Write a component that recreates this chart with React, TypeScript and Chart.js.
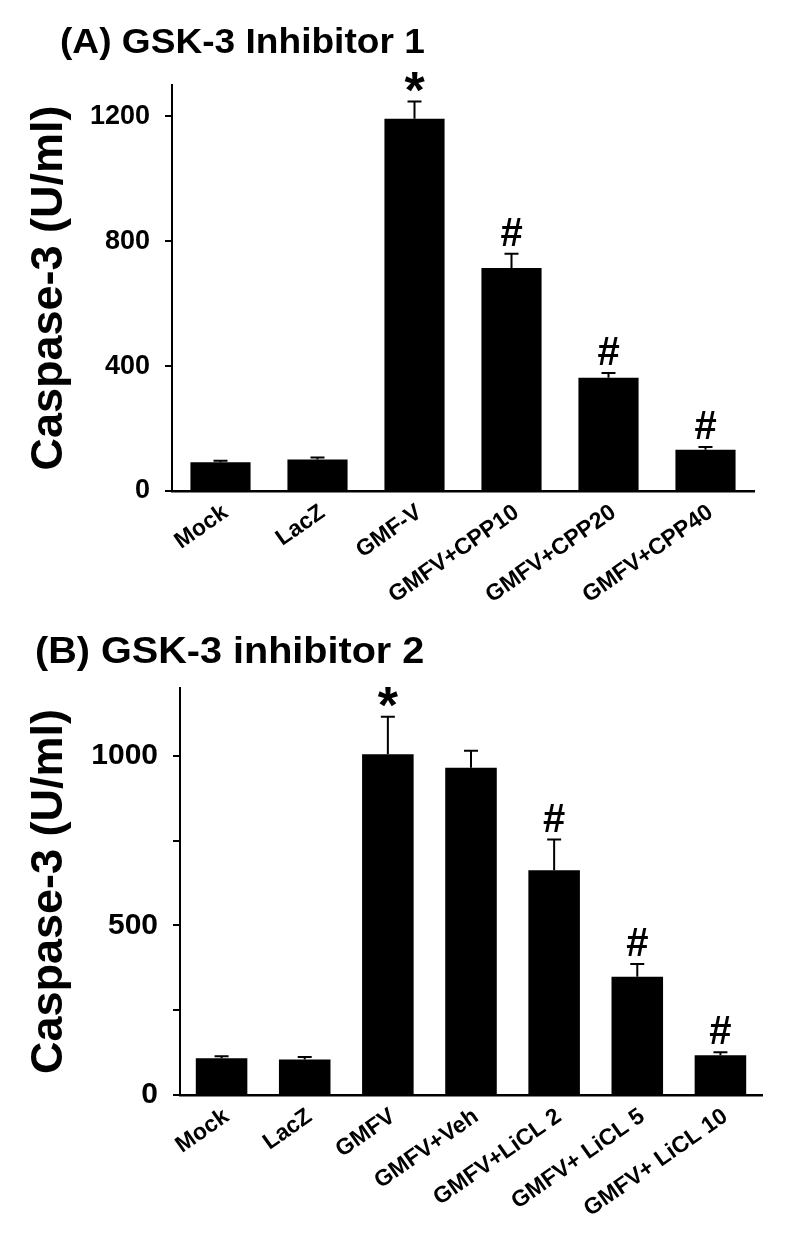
import React, { useEffect, useRef } from 'react';
import { Chart, registerables } from 'chart.js';

Chart.register(...registerables);

const FONT = '"Liberation Sans", Arial, Helvetica, sans-serif';

// ---------- Panel A data ----------
const categoriesA = ['Mock', 'LacZ', 'GMF-V', 'GMFV+CPP10', 'GMFV+CPP20', 'GMFV+CPP40'];
const valuesA = [92, 101, 1192, 714, 363, 132];
const errorsA = [5, 6, 55, 46, 15, 9];
const marksA = ['', '', '*', '#', '#', '#'];
const ticksA = [0, 400, 800, 1200];
const labeledA = [0, 400, 800, 1200];
const maxA = 1300;

// ---------- Panel B data ----------
const categoriesB = ['Mock', 'LacZ', 'GMFV', 'GMFV+Veh', 'GMFV+LiCL 2', 'GMFV+ LiCL 5', 'GMFV+ LiCL 10'];
const valuesB = [108, 105, 1005, 965, 663, 349, 117];
const errorsB = [6, 7, 110, 50, 90, 37, 9];
const marksB = ['', '', '*', '', '#', '#', '#'];
const ticksB = [0, 250, 500, 750, 1000];
const labeledB = [0, 500, 1000];
const maxB = 1200;

const overlayPlugin = {
  id: 'overlay',
  afterDatasetsDraw(chart: any, _args: any, o: any) {
    const ctx = chart.ctx;
    const xs = chart.scales.x;
    const ys = chart.scales.y;
    ctx.save();
    ctx.strokeStyle = '#000';
    ctx.fillStyle = '#000';
    ctx.lineWidth = 2;
    o.vals.forEach((v: number, i: number) => {
      const px = xs.getPixelForValue(i);
      const y0 = ys.getPixelForValue(v);
      const y1 = ys.getPixelForValue(v + o.errs[i]);
      ctx.beginPath();
      ctx.moveTo(px, y0);
      ctx.lineTo(px, y1);
      ctx.moveTo(px - o.cap, y1);
      ctx.lineTo(px + o.cap, y1);
      ctx.stroke();
      const m = o.marks[i];
      if (m) {
        const isStar = m === '*';
        ctx.font = `bold ${isStar ? o.starSize : o.hashSize}px ${FONT}`;
        ctx.textAlign = 'center';
        ctx.textBaseline = 'alphabetic';
        const mt = ctx.measureText(m);
        const cy = y1 - (isStar ? o.starGap : o.hashGap);
        const base = cy + (mt.actualBoundingBoxAscent - mt.actualBoundingBoxDescent) / 2;
        ctx.fillText(m, px, base);
      }
    });
    ctx.restore();
  },
  afterDraw(chart: any, _args: any, o: any) {
    const ctx = chart.ctx;
    const ca = chart.chartArea;
    ctx.save();
    ctx.fillStyle = '#000';
    ctx.font = `bold ${o.titleSize}px ${FONT}`;
    ctx.textAlign = 'left';
    ctx.textBaseline = 'alphabetic';
    ctx.translate(o.titleX, o.titleY);
    ctx.scale(o.titleStretch, 1);
    ctx.fillText(o.title, 0, 0);
    ctx.restore();

    ctx.save();
    ctx.fillStyle = '#000';
    ctx.translate(o.yTitleX, (ca.top + ca.bottom) / 2);
    ctx.rotate(-Math.PI / 2);
    ctx.font = `bold ${o.yTitleSize}px ${FONT}`;
    ctx.textAlign = 'center';
    ctx.textBaseline = 'middle';
    ctx.fillText(o.yTitle, 0, 0);
    ctx.restore();
  },
};

function buildConfig(p: any): any {
  return {
    type: 'bar',
    data: {
      labels: p.cats,
      datasets: [
        {
          data: p.vals,
          backgroundColor: '#000',
          borderWidth: 0,
          barPercentage: 0.62,
          categoryPercentage: 1.0,
        },
      ],
    },
    plugins: [overlayPlugin],
    options: {
      responsive: false,
      animation: false,
      devicePixelRatio: 1,
      layout: { padding: { top: p.padTop, right: p.padRight, left: 0, bottom: 0 } },
      plugins: {
        legend: { display: false },
        tooltip: { enabled: false },
        title: { display: false },
        overlay: {
          vals: p.vals,
          errs: p.errs,
          marks: p.marks,
          cap: 7,
          starSize: 52,
          hashSize: 40,
          starGap: 20,
          hashGap: 22,
          title: p.title,
          titleX: p.titleX,
          titleY: p.titleY,
          titleSize: p.titleSize,
          titleStretch: p.titleStretch,
          yTitle: 'Caspase-3 (U/ml)',
          yTitleX: 50,
          yTitleSize: 45,
        },
      },
      scales: {
        x: {
          type: 'category',
          offset: true,
          afterFit: (s: any) => {
            s.height = p.xHeight;
          },
          grid: { display: true, drawOnChartArea: false, drawTicks: false },
          border: { display: true, color: '#000', width: 2.5 },
          ticks: {
            autoSkip: false,
            minRotation: 35,
            maxRotation: 35,
            padding: 8,
            labelOffset: 5,
            color: '#000',
            font: { family: FONT, size: 23, weight: 'bold' },
          },
        },
        y: {
          type: 'linear',
          min: 0,
          max: p.max,
          afterFit: (s: any) => {
            s.width = p.yWidth;
          },
          afterBuildTicks: (s: any) => {
            s.ticks = p.ticks.map((v: number) => ({ value: v }));
          },
          grid: {
            display: true,
            drawOnChartArea: false,
            drawTicks: true,
            tickLength: 7,
            color: '#000',
            lineWidth: 2,
          },
          border: { display: true, color: '#000', width: 2 },
          ticks: {
            padding: 15,
            color: '#000',
            font: { family: FONT, size: p.tickSize, weight: 'bold' },
            callback: (v: any) => (p.labeled.includes(Number(v)) ? String(v) : ''),
          },
        },
      },
    },
  };
}

function Panel(props: { cfg: any; top: number; height: number }) {
  const ref = useRef<HTMLCanvasElement | null>(null);
  useEffect(() => {
    if (!ref.current) return;
    const chart = new Chart(ref.current, buildConfig(props.cfg));
    return () => chart.destroy();
  }, []);
  return (
    <div style={{ position: 'absolute', left: 0, top: props.top, width: 800, height: props.height }}>
      <canvas ref={ref} width={800} height={props.height} style={{ display: 'block' }} />
    </div>
  );
}

const cfgA = {
  cats: categoriesA,
  vals: valuesA,
  errs: errorsA,
  marks: marksA,
  ticks: ticksA,
  labeled: labeledA,
  max: maxA,
  yWidth: 172,
  xHeight: 124,
  padTop: 85,
  padRight: 46,
  tickSize: 27,
  title: '(A) GSK-3 Inhibitor 1',
  titleX: 60,
  titleY: 53,
  titleSize: 35,
  titleStretch: 1.06,
};

const cfgB = {
  cats: categoriesB,
  vals: valuesB,
  errs: errorsB,
  marks: marksB,
  ticks: ticksB,
  labeled: labeledB,
  max: maxB,
  yWidth: 180,
  xHeight: 156,
  padTop: 73,
  padRight: 38,
  tickSize: 30,
  title: '(B) GSK-3 inhibitor 2',
  titleX: 35,
  titleY: 663 - 615,
  titleSize: 37,
  titleStretch: 1.07,
};

export default function App() {
  return (
    <div style={{ position: 'absolute', left: 0, top: 0, width: 800, height: 1251, background: '#fff' }}>
      <Panel cfg={cfgA} top={0} height={615} />
      <Panel cfg={cfgB} top={615} height={636} />
    </div>
  );
}
